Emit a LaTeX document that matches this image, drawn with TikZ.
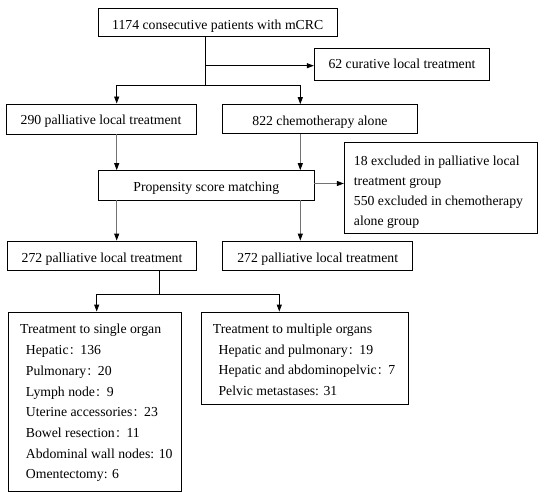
\documentclass[tikz,border=0pt]{standalone}
\usepackage{fontspec}
\setmainfont{Liberation Serif}
\newfontfamily\cjk{Noto Sans CJK SC}
\usetikzlibrary{arrows.meta}
\newcommand{\fc}{\hspace{0.4bp}{\cjk\fontsize{11}{11}\selectfont ：}\hspace{0.4bp}}
\newcommand{\ind}{\hspace*{5.7bp}}
\begin{document}
\begin{tikzpicture}[x=1bp,y=-1bp,
  box/.style={draw=black,line width=0.9bp,rectangle,inner sep=0pt,
    font=\fontsize{13.8}{20.8}\selectfont,text height=12bp,text depth=0bp},
  frame/.style={draw=black,line width=0.9bp,rectangle,inner sep=0pt},
  txt/.style={inner sep=0pt,align=left,anchor=north west},
  arr/.style={line width=0.9bp,-{Triangle[length=7bp,width=5bp,color=black]}},
  garr/.style={arr,draw=black!55},
  ln/.style={line width=0.9bp}]
\useasboundingbox (0,0) rectangle (544,492);
\node[box,minimum width=238.7bp,minimum height=27.7bp,text height=15.6bp] (top) at (217.7,22.2) {1174 consecutive patients with mCRC};
\node[box,minimum width=175.4bp,minimum height=31.7bp,text height=8.4bp] (b62) at (402,64.2) {62 curative local treatment};
\node[box,minimum width=190bp,minimum height=30bp] (b290) at (101,119) {290 palliative local treatment};
\node[box,minimum width=195.4bp,minimum height=29.3bp] (b822) at (320,119.3) {822 chemotherapy alone};
\node[box,minimum width=216bp,minimum height=29.3bp,text height=12.8bp] (psm) at (206.3,185.3) {Propensity score matching};
\node[frame,minimum width=193.4bp,minimum height=91bp] (excl) at (441,187.8) {};
\node[txt,font=\fontsize{13.8}{20}\selectfont] (exclT) at (353.7,155.6) {18 excluded in palliative local\\treatment group\\550 excluded in chemotherapy\\alone group};
\node[box,minimum width=189.4bp,minimum height=29.3bp,text height=14bp] (l272) at (102,255.7) {272 palliative local treatment};
\node[box,minimum width=190bp,minimum height=29.3bp,text height=14bp] (r272) at (317.7,255.7) {272 palliative local treatment};
\node[frame,minimum width=173.4bp,minimum height=179bp] (single) at (95,401.5) {};
\node[txt,font=\fontsize{13.8}{20.8}\selectfont] (singleT) at (20,324.1) {Treatment to single organ\\
\ind Hepatic\fc 136\\
\ind Pulmonary\fc 20\\
\ind Lymph node\fc 9\\
\ind Uterine accessories\fc 23\\
\ind Bowel resection\fc 11\\
\ind Abdominal wall nodes: 10\\
\ind Omentectomy: 6};
\node[frame,minimum width=207bp,minimum height=92.3bp] (multi) at (305.2,358.2) {};
\node[txt,font=\fontsize{13.8}{20.6}\selectfont] (multiT) at (212.7,324.1) {Treatment to multiple organs\\
\ind Hepatic and pulmonary\fc 19\\
\ind Hepatic and abdominopelvic\fc 7\\
\ind Pelvic metastases: 31};
% junctions
\coordinate (j1) at (205.7,85);
\coordinate (ca) at (116.7,85);
\coordinate (cb) at (300.3,85);
\coordinate (jr) at (205.7,65.7);
\coordinate (jp) at (314.3,183.5);
\coordinate (j2) at (159,294.3);
\coordinate (cc) at (96.7,294.3);
\coordinate (cd) at (279.3,294.3);
\draw[ln] (top.south -| j1) -- (j1);
\draw[arr] (jr) -- (b62.west |- jr);
\draw[ln] (ca) -- (cb);
\draw[arr] (ca) -- (ca |- b290.north);
\draw[arr] (cb) -- (cb |- b822.north);
\draw[garr] (ca |- b290.south) -- (ca |- psm.north);
\draw[garr] (cb |- b822.south) -- (cb |- psm.north);
\draw[garr] (jp) -- (excl.west |- jp);
\draw[garr] (ca |- psm.south) -- (ca |- l272.north);
\draw[garr] (cb |- psm.south) -- (cb |- r272.north);
\draw[ln] (j2 |- l272.south) -- (j2);
\draw[ln] (cc) -- (cd);
\draw[arr] (cc) -- (cc |- single.north);
\draw[arr] (cd) -- (cd |- multi.north);
\end{tikzpicture}
\end{document}
